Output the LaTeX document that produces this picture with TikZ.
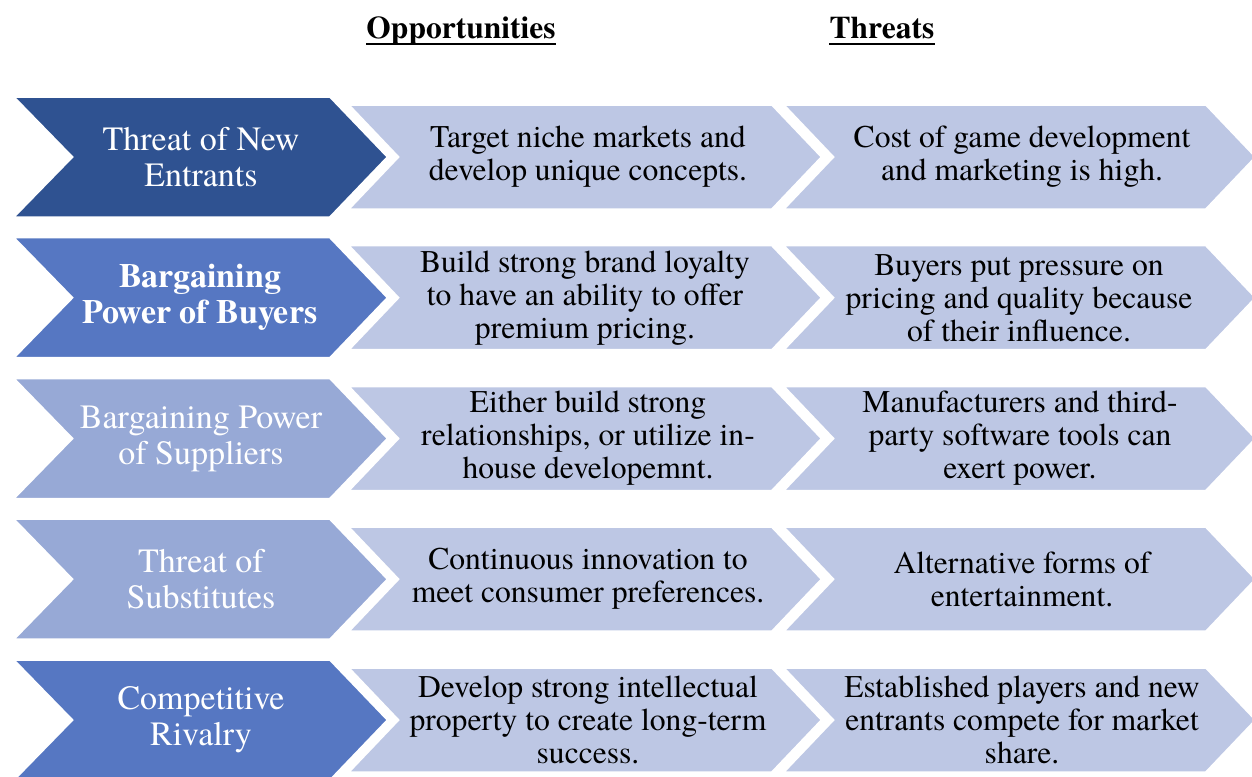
\documentclass[tikz,border=0pt]{standalone}
\usepackage{fontspec}
\setmainfont{texgyretermes}[Extension=.otf, UprightFont=*-regular, BoldFont=*-bold, ItalicFont=*-italic, BoldItalicFont=*-bolditalic]
\definecolor{forcedark}{RGB}{47,82,145}
\definecolor{forcemid}{RGB}{86,119,194}
\definecolor{forcelight}{RGB}{151,169,214}
\definecolor{cellfill}{RGB}{189,199,228}
\tikzset{
  chevedge/.style={draw=white, line width=2.5pt, line join=miter},
  forcechev/.pic={\path[chevedge, fill=#1] (13,-60.5) -- (330,-60.5) -- (388,0) -- (330,60.5) -- (13,60.5) -- (72,0) -- cycle;},
  oppchev/.pic={\path[chevedge, fill=cellfill] (348,-52.5) -- (772,-52.5) -- (822,0) -- (772,52.5) -- (348,52.5) -- (398,0) -- cycle;},
  thrchev/.pic={\path[chevedge, fill=cellfill] (783,-52.5) -- (1206,-52.5) -- (1256,0) -- (1206,52.5) -- (783,52.5) -- (833,0) -- cycle;},
  forcetext/.style={text=white, align=center, inner sep=0pt, font=\fontsize{34}{36}\selectfont},
  celltext/.style={text=black, align=center, inner sep=0pt, font=\fontsize{31.6}{33}\selectfont},
  header/.style={text=black, inner sep=0pt, anchor=base, font=\fontsize{31.5}{34}\selectfont\bfseries},
}
\begin{document}
\begin{tikzpicture}[x=1pt, y=-1pt]
\useasboundingbox (0,0) rectangle (1252,776);
\clip (0,0) rectangle (1252,776);

% column headings
\node[header] (hop) at (461,38) {Opportunities};
\node[header] (hth) at (882,38) {Threats};
\draw[line width=2.6pt] ([yshift=-6pt]hop.base west) -- ([yshift=-6pt]hop.base east);
\draw[line width=2.6pt] ([yshift=-6pt]hth.base west) -- ([yshift=-6pt]hth.base east);

% one row per force: threat column, opportunity column, then the force on top
\foreach \yc/\col in {157/forcedark, 297.7/forcemid, 438.5/forcelight, 579.2/forcelight, 720/forcemid}{
  \pic at (0,\yc) {thrchev};
  \pic at (0,\yc) {oppchev};
  \pic at (0,\yc) {forcechev=\col};
}

% forces
\node[forcetext] (l1) at (201,157) {Threat of New\\Entrants};
\node[forcetext, font=\fontsize{34}{36}\selectfont\bfseries] (l2) at (200,297.7) {Bargaining\\Power of Buyers};
\node[forcetext] (l3) at (201,438.5) {Bargaining Power\\of Suppliers};
\node[forcetext] (l4) at (201,579.2) {Threat of\\Substitutes};
\node[forcetext] (l5) at (201,720) {Competitive\\Rivalry};

% opportunities
\node[celltext] (o1) at (588,157) {Target niche markets and\\develop unique concepts.};
\node[celltext] (o2) at (585,298) {Build strong brand loyalty\\to have an ability to offer\\premium pricing.};
\node[celltext] (o3) at (588,438.5) {Either build strong\\relationships, or utilize in-\\house developemnt.};
\node[celltext] (o4) at (588,579.2) {Continuous innovation to\\meet consumer preferences.};
\node[celltext] (o5) at (588,720) {Develop strong intellectual\\property to create long-term\\success.};

% threats
\node[celltext] (t1) at (1022,157) {Cost of game development\\and marketing is high.};
\node[celltext] (t2) at (1019,298) {Buyers put pressure on\\pricing and quality because\\of their influence.};
\node[celltext] (t3) at (1020,438.5) {Manufacturers and third-\\party software tools can\\exert power.};
\node[celltext] (t4) at (1022,579.2) {Alternative forms of\\entertainment.};
\node[celltext] (t5) at (1022,720) {Established players and new\\entrants compete for market\\share.};
\end{tikzpicture}
\end{document}
